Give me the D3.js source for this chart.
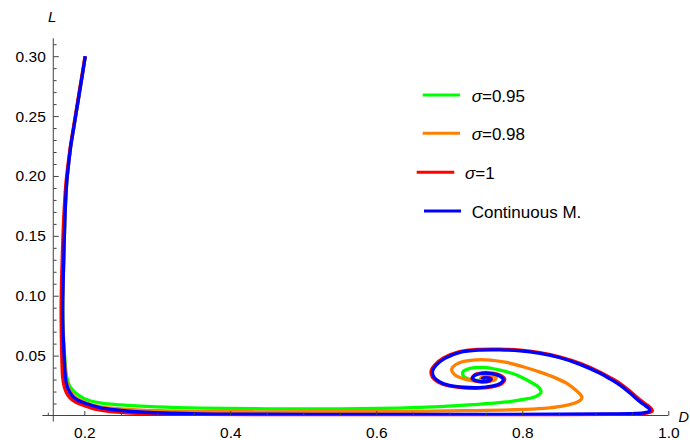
<!DOCTYPE html>
<html><head><meta charset="utf-8">
<script src="https://cdn.jsdelivr.net/npm/d3@7"></script>
<style>
body{margin:0;background:#fff}
svg{display:block}
text{font-family:"Liberation Sans",Arial,sans-serif}
</style>
</head><body>
<svg id="chart" width="690" height="440"></svg>
<script>
// ---- tick values ----
const xMajorTicks = [0.2, 0.4, 0.6, 0.8, 1.0];
const xMinorTicks = [0.15, 0.25, 0.3, 0.35, 0.45, 0.5, 0.55, 0.65, 0.7, 0.75, 0.85, 0.9, 0.95];
const yMajorTicks = [0.05, 0.10, 0.15, 0.20, 0.25, 0.30];
const yMinorTicks = [0.01,0.02,0.03,0.04,0.06,0.07,0.08,0.09,0.11,0.12,0.13,0.14,0.16,0.17,0.18,0.19,0.21,0.22,0.23,0.24,0.26,0.27,0.28,0.29,0.31];

// ---- legend ----
const seriesSymbol = ["σ", "σ", "σ", ""];
const seriesLabels = ["=0.95", "=0.98", "=1", "Continuous M."];

// ---- series: [D, L] ----
const sigma095 = [
 [0.2014,0.300],[0.1975,0.285],[0.1935,0.270],[0.1895,0.255],[0.1855,0.240],[0.1815,0.225],
 [0.1785,0.210],[0.1760,0.195],[0.1745,0.180],[0.1735,0.165],[0.1727,0.150],[0.1718,0.130],
 [0.1710,0.110],[0.1705,0.095],[0.1707,0.080],[0.1715,0.065],[0.1728,0.052],[0.1740,0.042],
 [0.1759,0.0323],[0.1795,0.025],[0.1850,0.0205],[0.1896,0.0180],[0.2000,0.0140],[0.2215,0.0105],
 [0.2500,0.0088],[0.3000,0.0072],[0.3600,0.0062],[0.4500,0.0056],[0.5500,0.0055],[0.6300,0.0062],
 [0.6870,0.0074],[0.7325,0.0090],[0.7786,0.0113],[0.8037,0.0136],[0.8188,0.0160],[0.8256,0.0196],
 [0.8229,0.0233],[0.8105,0.0282],[0.7923,0.0338],[0.7695,0.0379],[0.7462,0.0402],[0.7284,0.0393],
 [0.7188,0.0365],[0.7195,0.0329],[0.7284,0.0302],[0.7393,0.0294],[0.7475,0.0303],[0.7460,0.0308]
];
const sigma098 = [
 [0.2014,0.300],[0.1975,0.285],[0.1935,0.270],[0.1895,0.255],[0.1855,0.240],[0.1815,0.225],
 [0.1785,0.210],[0.1760,0.195],[0.1745,0.180],[0.1735,0.165],[0.1727,0.150],[0.1718,0.130],
 [0.1710,0.110],[0.1705,0.095],[0.1705,0.080],[0.1712,0.065],[0.1724,0.052],[0.1734,0.042],
 [0.1748,0.033],[0.1772,0.025],[0.1815,0.0195],[0.1870,0.0155],[0.1950,0.0125],[0.2060,0.0098],
 [0.2220,0.0072],[0.2500,0.0055],[0.3000,0.0040],[0.3600,0.0033],[0.4500,0.0031],[0.5500,0.0032],
 [0.6500,0.0035],[0.7200,0.0040],[0.7900,0.0048],[0.8300,0.0060],[0.8550,0.0078],[0.8700,0.0100],
 [0.8790,0.0125],[0.8818,0.0150],[0.8790,0.0180],[0.8735,0.0210],[0.8626,0.0262],[0.8462,0.0312],
 [0.8243,0.0362],[0.8010,0.0407],[0.7786,0.0443],[0.7558,0.0463],[0.7325,0.0463],[0.7147,0.0443],
 [0.7051,0.0407],[0.7033,0.0375],[0.7078,0.0338],[0.7188,0.0308],[0.7325,0.0290],[0.7512,0.0284],
 [0.7626,0.0298],[0.7640,0.0320],[0.7558,0.0333],[0.7460,0.0325],[0.7430,0.0310],[0.7450,0.0302]
];
const sigma1 = [
 [0.2010,0.300],[0.1970,0.285],[0.1930,0.270],[0.1890,0.255],[0.1850,0.240],[0.1810,0.225],
 [0.1778,0.210],[0.1750,0.195],[0.1732,0.180],[0.1718,0.165],[0.1708,0.150],[0.1697,0.130],
 [0.1688,0.110],[0.1683,0.095],[0.1683,0.080],[0.1686,0.065],[0.1690,0.052],[0.1695,0.042],
 [0.1702,0.033],[0.1722,0.025],[0.1755,0.019],[0.1800,0.0150],[0.1880,0.0112],[0.1986,0.0085],
 [0.2150,0.0052],[0.2352,0.0032],[0.2900,0.0014],[0.3585,0.0009],[0.4500,0.0008],[0.5500,0.0008],
 [0.6500,0.0008],[0.7500,0.0008],[0.8500,0.0008],[0.9200,0.0009],[0.9580,0.0013],[0.9720,0.0022],
 [0.9780,0.0036],[0.9770,0.0056],[0.9720,0.0083],[0.9635,0.0120],[0.9500,0.0190],[0.9360,0.0259],
 [0.9220,0.0311],[0.9080,0.0358],[0.8800,0.0433],[0.8520,0.0488],[0.8240,0.0524],[0.7970,0.0546],
 [0.7690,0.0554],[0.7410,0.0552],[0.7130,0.0532],[0.6920,0.0481],[0.6800,0.0422],[0.6750,0.0370],
 [0.6770,0.0318],[0.6860,0.0276],[0.7000,0.0247],[0.7200,0.0231],[0.7410,0.0228],[0.7600,0.0240],
 [0.7720,0.0265],[0.7760,0.0300],[0.7710,0.0332],[0.7590,0.0353],[0.7450,0.0355],[0.7340,0.0336],
 [0.7310,0.0310],[0.7360,0.0288],[0.7470,0.0280],[0.7560,0.0290],[0.7580,0.0306],[0.7530,0.0317],
 [0.7460,0.0312],[0.7450,0.0302]
];
const continuousM = [
 [0.2014,0.300],[0.1975,0.285],[0.1935,0.270],[0.1895,0.255],[0.1855,0.240],[0.1815,0.225],
 [0.1785,0.210],[0.1760,0.195],[0.1745,0.180],[0.1735,0.165],[0.1727,0.150],[0.1718,0.130],
 [0.1710,0.110],[0.1705,0.095],[0.1705,0.080],[0.1712,0.065],[0.1722,0.052],[0.1730,0.042],
 [0.1740,0.033],[0.1762,0.025],[0.1800,0.0195],[0.1850,0.0155],[0.1920,0.0125],[0.2033,0.0098],
 [0.2200,0.0068],[0.2444,0.0046],[0.2900,0.0025],[0.3585,0.0014],[0.4500,0.0011],[0.5500,0.0010],
 [0.6500,0.0010],[0.7500,0.0010],[0.8500,0.0011],[0.9200,0.0013],[0.9550,0.0017],[0.9680,0.0024],
 [0.9740,0.0036],[0.9740,0.0055],[0.9690,0.0080],[0.9612,0.0115],[0.9480,0.0185],[0.9338,0.0254],
 [0.9200,0.0306],[0.9064,0.0352],[0.8790,0.0427],[0.8516,0.0482],[0.8243,0.0518],[0.7969,0.0540],
 [0.7695,0.0548],[0.7420,0.0546],[0.7147,0.0527],[0.6940,0.0477],[0.6820,0.0420],[0.6770,0.0370],
 [0.6790,0.0320],[0.6870,0.0280],[0.7000,0.0252],[0.7200,0.0236],[0.7400,0.0233],[0.7580,0.0245],
 [0.7700,0.0268],[0.7740,0.0300],[0.7690,0.0330],[0.7580,0.0350],[0.7450,0.0352],[0.7350,0.0335],
 [0.7320,0.0310],[0.7370,0.0290],[0.7470,0.0283],[0.7550,0.0292],[0.7570,0.0306],[0.7520,0.0315],
 [0.7460,0.0310],[0.7450,0.0302]
];

const allSeries = [sigma095, sigma098, sigma1, continuousM];
const colors = ["#00ff00", "#ff8000", "#ff0000", "#0000ff"];

// ---- layout ----
const svg = d3.select("#chart");
const x = d3.scaleLinear().domain([0.2, 1.0]).range([84.3, 668.3]);
const y = d3.scaleLinear().domain([0, 0.3]).range([415.5, 56.2]);
const axisColor = "#444";
const D0 = 0.1575; // x position of the vertical axis

// curves
const line = d3.line().x(d => x(d[0])).y(d => y(d[1])).curve(d3.curveCatmullRom.alpha(0.5));
svg.append("g").selectAll("path").data(allSeries).join("path")
  .attr("d", line).attr("fill", "none")
  .attr("stroke", (d, i) => colors[i]).attr("stroke-width", 3.3)
  .attr("stroke-linejoin", "round").attr("stroke-linecap", "butt");

// x axis
const gx = svg.append("g").attr("transform", `translate(0,${y(0)})`);
gx.call(d3.axisBottom(x).tickValues(xMajorTicks).tickFormat(d3.format(".1f")).tickSize(-4.5).tickPadding(11));
gx.append("g").call(d3.axisBottom(x).tickValues(xMinorTicks).tickFormat("").tickSize(-2.8));
gx.selectAll(".domain").remove();
gx.append("line").attr("x1", x(0.1425)).attr("x2", x(1.0)).attr("y1", 0).attr("y2", 0);

// y axis
const gy = svg.append("g").attr("transform", `translate(${x(D0)},0)`);
gy.call(d3.axisLeft(y).tickValues(yMajorTicks).tickFormat(d3.format(".2f")).tickSize(-5.5).tickPadding(7.5));
gy.append("g").call(d3.axisLeft(y).tickValues(yMinorTicks).tickFormat("").tickSize(-3.3));
gy.selectAll(".domain").remove();
gy.append("line").attr("x1", 0).attr("x2", 0).attr("y1", y(0.315)).attr("y2", y(-0.005));

svg.selectAll(".tick line").attr("stroke", axisColor).attr("stroke-width", 1);
svg.selectAll("g > line").attr("stroke", axisColor).attr("stroke-width", 1);
svg.selectAll(".tick text").attr("fill", "#000").style("font-size", "15.5px")
  .style("font-family", '"Liberation Sans",Arial,sans-serif');

// axis labels
svg.append("text").attr("x", x(D0) - 1).attr("y", 21.5).attr("text-anchor", "middle")
  .style("font-style", "italic").style("font-size", "15px").text("L");
svg.append("text").attr("x", 678.5).attr("y", 421.5)
  .style("font-style", "italic").style("font-size", "14.5px").text("D");

// legend
const legLineX1 = [422.7, 422.7, 416.7, 424];
const legLineX2 = [460, 460, 454.3, 461];
const legTextX = [471.7, 471.7, 465, 471.7];
const legY = [95, 133.3, 172.3, 211];
const leg = svg.append("g");
seriesLabels.forEach((lab, i) => {
  leg.append("line").attr("x1", legLineX1[i]).attr("x2", legLineX2[i])
    .attr("y1", legY[i]).attr("y2", legY[i])
    .attr("stroke", colors[i]).attr("stroke-width", 3);
  const t = leg.append("text").attr("x", legTextX[i]).attr("y", legY[i] + 6.8)
    .style("font-size", "17px").attr("fill", "#000");
  if (seriesSymbol[i]) t.append("tspan").style("font-style", "italic").text(seriesSymbol[i]);
  t.append("tspan").text(lab);
});
</script>
</body></html>
